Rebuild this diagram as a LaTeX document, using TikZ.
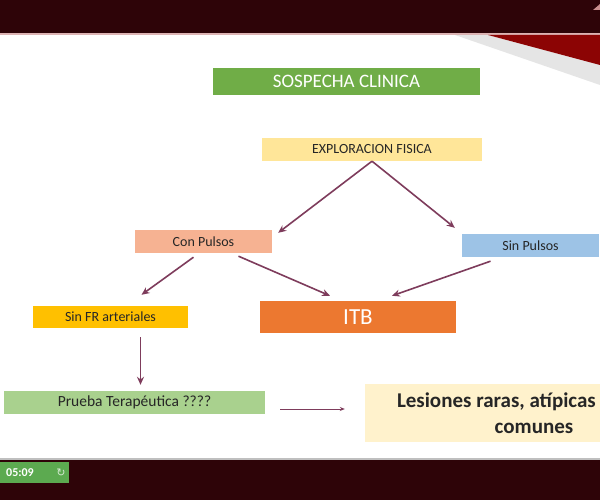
\documentclass[tikz,border=0pt]{standalone}
\usepackage{fontspec}
\setmainfont{Carlito}
\newfontfamily\iconfont{DejaVu Sans}
\usetikzlibrary{arrows.meta}
\definecolor{banda}{RGB}{46,4,8}
\definecolor{rojo}{RGB}{140,4,4}
\definecolor{texto}{RGB}{38,38,38}
\definecolor{flecha}{RGB}{126,60,92}
\definecolor{verdeosc}{RGB}{112,173,71}
\definecolor{verdecla}{RGB}{169,209,142}
\definecolor{amarillo}{RGB}{255,230,153}
\definecolor{crema}{RGB}{255,242,204}
\definecolor{salmon}{RGB}{246,178,146}
\definecolor{celeste}{RGB}{157,195,230}
\definecolor{oro}{RGB}{255,192,0}
\definecolor{naranja}{RGB}{236,120,48}
\definecolor{reloj}{RGB}{92,170,80}

\begin{document}
\begin{tikzpicture}[
        x=1pt, y=-1pt,
        caja/.style={rectangle, inner sep=0pt, text=texto, align=center, font=\fontsize{14}{16}\selectfont},
        arrow/.style={-{Stealth[length=8pt, width=7pt]}, line width=1.6pt, draw=flecha}
        ]
        \useasboundingbox (0,0) rectangle (600,500);
        \clip (0,0) rectangle (600,500);

        % fondo de la diapositiva
        \fill[banda] (0,0) rectangle (600,500);
        \fill[white] (0,35) rectangle (600,459);
        \fill[rojo!30!white] (0,33) rectangle (600,35);
        \fill[gray, opacity=0.2] (455,35) -- (488,35) -- (600,65) -- (600,85) -- cycle;
        \fill[rojo] (488,35) -- (600,35) -- (600,65) -- cycle;
        \fill[rojo!45!white] (593,10) -- (600,4) -- (600,10) -- cycle;
        \fill[gray!50] (0,458) rectangle (600,460);

        \node[caja, fill=verdeosc, minimum width=267pt, minimum height=27pt, text=white, font=\fontsize{19}{21}\selectfont] (sospecha) at (346.5,81.5) {SOSPECHA CLINICA};
        \node[caja, fill=amarillo, minimum width=220pt, minimum height=23pt] (exploracion) at (372,149.5) {EXPLORACION FISICA};
        \node[caja, fill=salmon, minimum width=137pt, minimum height=23pt] (con_pulsos) at (203.5,241.5) {Con Pulsos};
        \node[caja, fill=celeste, minimum width=137pt, minimum height=23pt] (sin_pulsos) at (530.5,245.5) {Sin Pulsos};
        \node[caja, fill=oro, minimum width=155pt, minimum height=22pt] (sin_fr) at (110.5,317) {Sin FR arteriales};
        \node[caja, fill=naranja, minimum width=196pt, minimum height=32pt, text=white, font=\fontsize{23}{25}\selectfont] (itb) at (358,317) {ITB};
        \node[caja, fill=verdecla, minimum width=261pt, minimum height=23pt, font=\fontsize{15.5}{17}\selectfont] (prueba) at (134.5,402.5) {Prueba Terapéutica ????};
        \node[caja, fill=crema, minimum width=338pt, minimum height=58pt, font=\bfseries\fontsize{21}{26}\selectfont] (lesiones) at (534,413) {\makebox[274pt][l]{Lesiones raras, atípicas}\\comunes};

        \draw[arrow] (exploracion.south) -- ([xshift=6pt, yshift=-3pt]con_pulsos.north east);
        \draw[arrow] (exploracion.south) -- ([xshift=-7pt, yshift=6pt]sin_pulsos.north west);
        \draw[arrow] ([xshift=-10pt, yshift=-4pt]con_pulsos.south) -- ([xshift=31pt, yshift=11pt]sin_fr.north);
        \draw[arrow] ([xshift=35pt, yshift=-3pt]con_pulsos.south) -- ([xshift=-28pt, yshift=5pt]itb.north);
        \draw[arrow] ([xshift=-40pt, yshift=-4pt]sin_pulsos.south) -- ([xshift=34pt, yshift=5pt]itb.north);
        \draw[arrow, shorten <=9pt, shorten >=6pt] ([xshift=30pt]sin_fr.south) -- ([xshift=30pt]sin_fr.south |- prueba.north);
        \draw[-{Stealth[length=5pt, width=4pt]}, line width=0.8pt, draw=flecha, shorten <=15pt, shorten >=20pt] ([yshift=-6.5pt]prueba.east) -- ([yshift=-6.5pt]prueba.east -| lesiones.west);

        % contador de la barra inferior
        \fill[reloj] (0,462) rectangle (69,483);
        \node[text=white, font=\bfseries\fontsize{12}{14}\selectfont, inner sep=0pt] (hora) at (20,472.5) {05:09};
        \node[text=white!75!reloj, font=\iconfont\fontsize{11}{12}\selectfont, inner sep=0pt] (recarga) at (61,472.5) {↻};
    \end{tikzpicture}
\end{document}
